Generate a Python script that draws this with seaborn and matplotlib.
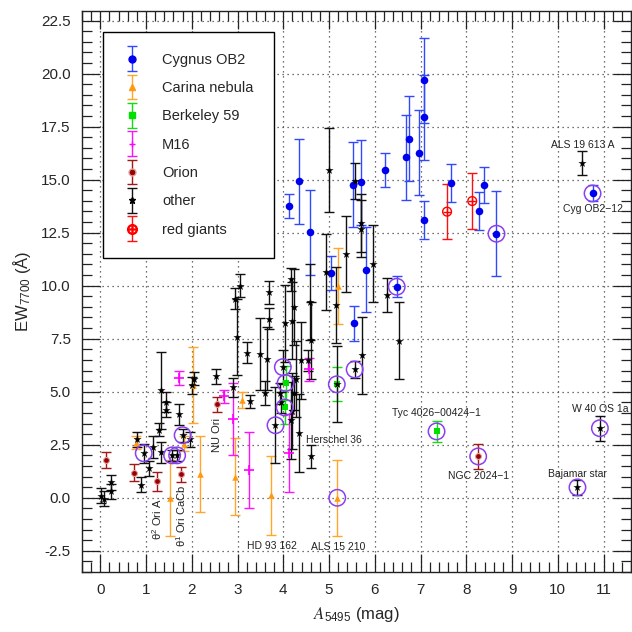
import numpy as np
import pandas as pd
import matplotlib
matplotlib.use('Agg')
import matplotlib.pyplot as plt
import seaborn as sns
from matplotlib.container import ErrorbarContainer
from matplotlib.legend_handler import HandlerErrorbar
from matplotlib.ticker import MultipleLocator, FormatStrFormatter

# ---------------- data (A5495 [mag], EW7700 [A], error) ----------------
cyg_x = [4.12, 4.34, 4.58, 5.05, 5.52, 5.54, 5.69, 5.81, 6.22, 6.48, 6.68, 6.74,
         6.97, 7.08, 7.08, 7.08, 7.66, 8.27, 8.39, 8.66, 10.76]
cyg_y = [13.76, 14.93, 12.51, 10.58, 14.76, 8.22, 14.87, 10.75, 15.44, 9.95, 16.05, 16.93,
         16.26, 19.68, 17.94, 13.08, 14.84, 13.52, 14.76, 12.45, 14.35]
cyg_e = [0.57, 2.0, 2.0, 0.8, 2.0, 0.82, 2.0, 2.0, 0.8, 0.5, 2.0, 2.0,
         2.0, 2.0, 2.0, 0.9, 0.9, 0.9, 0.85, 2.0, 0.38]

car_x = [0.78, 1.52, 1.83, 2.02, 2.17, 2.95, 3.10, 3.74, 5.18, 5.19]
car_y = [2.60, 0.00, 2.55, 5.33, 1.13, 1.00, 4.59, 0.11, 0.00, 9.97]
car_e = [0.30, 1.80, 0.35, 1.80, 1.80, 1.80, 0.38, 1.85, 1.80, 1.80]

ber_x = [4.05, 4.03, 5.17, 7.35]
ber_y = [5.41, 4.26, 5.35, 3.13]
ber_e = [0.80, 0.80, 0.80, 0.49]

m16_x = [1.73, 2.70, 2.90, 3.25, 4.12, 4.56]
m16_y = [5.66, 4.79, 3.72, 1.32, 2.10, 6.05]
m16_e = [0.32, 0.30, 1.70, 1.80, 1.85, 0.55]

ori_x = [0.13, 0.74, 1.25, 1.77, 2.56, 8.26]
ori_y = [1.79, 1.18, 0.78, 1.11, 4.40, 1.95]
ori_e = [0.37, 0.40, 0.45, 0.35, 0.35, 0.57]

oth_x = [0.02, 0.09, 0.24, 0.24, 0.80, 0.88, 0.95, 1.06, 1.15, 1.29, 1.33, 1.33,
         1.43, 1.43, 1.57, 1.68, 1.71, 1.80, 1.97, 2.04, 2.00, 2.52, 2.90, 2.98,
         2.95, 3.05, 3.21, 3.27, 3.50, 3.60, 3.65, 3.68, 3.69, 3.83, 3.92, 3.95,
         3.99, 4.03, 4.16, 4.16, 4.19, 4.20, 4.23, 4.24, 4.27, 4.34, 4.38, 4.54,
         4.58, 4.60, 4.60, 4.93, 5.00, 5.16, 5.17, 5.38, 5.56, 5.56, 5.69, 5.69,
         5.72, 5.97, 6.26, 6.54, 10.43, 10.54, 10.92]
oth_y = [0.09, -0.05, 0.74, 0.30, 2.76, 0.61, 2.10, 1.40, 2.39, 3.21, 2.14, 5.06,
         4.50, 4.15, 2.00, 2.00, 3.93, 2.95, 2.75, 5.62, 5.30, 5.72, 5.22, 7.57,
         9.39, 10.00, 6.84, 4.54, 6.79, 4.94, 6.56, 9.68, 8.44, 3.42, 4.93, 4.51,
         6.16, 8.22, 10.30, 3.65, 8.35, 4.09, 4.95, 8.99, 5.61, 3.05, 6.48, 6.48,
         9.22, 7.42, 1.96, 10.64, 15.45, 9.10, 5.35, 11.48, 14.93, 6.05, 12.95, 12.69,
         6.71, 11.04, 9.58, 7.41, 0.49, 15.77, 3.28]
oth_e = [0.35, 0.35, 0.35, 0.35, 0.36, 0.35, 0.45, 0.35, 0.50, 0.30, 0.50, 1.80,
         0.47, 0.35, 0.25, 0.25, 0.50, 0.30, 0.35, 0.30, 0.40, 0.36, 0.45, 1.80,
         0.50, 0.55, 0.50, 0.32, 1.70, 0.57, 1.50, 0.55, 0.50, 1.80, 0.50, 0.50,
         0.80, 1.80, 0.55, 1.80, 1.80, 1.80, 0.80, 1.80, 1.80, 1.83, 1.80, 0.50,
         1.80, 1.80, 0.55, 1.80, 2.00, 1.80, 1.80, 1.80, 0.85, 0.40, 1.35, 1.35,
         1.80, 1.80, 0.80, 1.80, 0.35, 0.57, 0.58]

rg_x = [7.58, 8.13]
rg_y = [13.49, 13.99]
rg_e = [1.30, 1.30]

# highlighted (circled) stars
circ_x = [0.95, 1.57, 1.68, 1.80, 3.83, 3.99, 4.05, 4.03, 5.17, 5.18, 5.56, 6.48,
          7.35, 8.26, 8.66, 10.43, 10.76, 10.92]
circ_y = [2.10, 2.00, 2.00, 2.95, 3.42, 6.16, 5.41, 4.26, 5.35, 0.00, 6.05, 9.95,
          3.13, 1.95, 12.45, 0.49, 14.35, 3.28]

# star names
name_txt = ['ALS 19 613 A', 'Cyg OB2\u221212', 'Tyc 4026\u221200424\u22121', 'NGC 2024\u22121',
            'W 40 OS 1a', 'Bajamar star', 'Herschel 36', 'HD 93 162', 'ALS 15 210']
name_x = [10.55, 10.76, 7.34, 8.27, 10.92, 10.43, 5.10, 3.76, 5.21]
name_y = [16.65, 13.63, 4.01, 1.02, 4.20, 1.13, 2.74, -2.25, -2.33]
vname_txt = ['\u03b8$^{\\mathregular{2}}$ Ori A', '\u03b8$^{\\mathregular{1}}$ Ori CaCb', 'NU Ori']
vname_x = [1.25, 1.77, 2.55]
vname_y = [-1.00, -0.85, 2.94]

# ---------------- style ----------------
sns.set_style('ticks')
plt.rcParams['font.family'] = ['Liberation Sans', 'DejaVu Sans']
plt.rcParams['mathtext.fontset'] = 'stix'

fig = plt.figure(figsize=(6.32, 6.32), dpi=100)
ax = fig.add_axes([0.1297, 0.0949, 0.8687, 0.8877])

groups = [
    dict(name='Cygnus OB2', x=cyg_x, y=cyg_y, e=cyg_e, m='o', ec='#3048ff', mc='#0000f0', s=30, edge='#0000f0', lw=0),
    dict(name='Carina nebula', x=car_x, y=car_y, e=car_e, m='^', ec='#ffa62b', mc='#ff9a10', s=22, edge='#ff9a10', lw=0),
    dict(name='Berkeley 59', x=ber_x, y=ber_y, e=ber_e, m='s', ec='#10e010', mc='#00e000', s=22, edge='#00e000', lw=0),
    dict(name='M16', x=m16_x, y=m16_y, e=m16_e, m='+', ec='#ff10ff', mc='#ff00ff', s=45, edge=None, lw=1.2),
    dict(name='Orion', x=ori_x, y=ori_y, e=ori_e, m='o', ec='#a01818', mc='#9a0000', s=18, edge='#e0a0a0', lw=0.8),
    dict(name='other', x=oth_x, y=oth_y, e=oth_e, m='*', ec='#111111', mc='#000000', s=38, edge='#000000', lw=0),
    dict(name='red giants', x=rg_x, y=rg_y, e=rg_e, m='o', ec='#ff1010', mc='none', s=40, edge='#ff0000', lw=1.0),
]

for g in groups:
    ax.errorbar(g['x'], g['y'], yerr=g['e'], fmt='none', ecolor=g['ec'],
                elinewidth=1.0, capsize=3.8, capthick=1.0, zorder=2)
for g in groups:
    df = pd.DataFrame({'x': g['x'], 'y': g['y']})
    if g['m'] == '+':
        sns.scatterplot(data=df, x='x', y='y', marker='+', color=g['mc'], s=g['s'],
                        linewidth=g['lw'], ax=ax, legend=False, zorder=3)
    elif g['name'] == 'red giants':
        sns.scatterplot(data=df, x='x', y='y', marker='o', facecolor='none', edgecolor=g['edge'],
                        s=g['s'], linewidth=g['lw'], ax=ax, legend=False, zorder=3)
        sns.scatterplot(data=df, x='x', y='y', marker='+', color=g['edge'], s=g['s'],
                        linewidth=1.0, ax=ax, legend=False, zorder=3)
    else:
        sns.scatterplot(data=df, x='x', y='y', marker=g['m'], color=g['mc'], edgecolor=g['edge'],
                        s=g['s'], linewidth=g['lw'], ax=ax, legend=False, zorder=3)

cdf = pd.DataFrame({'x': circ_x, 'y': circ_y})
sns.scatterplot(data=cdf, x='x', y='y', marker='o', facecolor='none', edgecolor='#8a3ff0',
                s=140, linewidth=1.1, ax=ax, legend=False, zorder=4)

# legend handles (errorbar style)
handles = []
for g in groups:
    mk = '$\\oplus$' if g['name'] == 'red giants' else g['m']
    mfc = g['mc'] if g['name'] != 'red giants' else g['edge']
    h = ax.errorbar([np.nan], [np.nan], yerr=[1.0], fmt='', marker=mk, linestyle='none',
                    color=mfc, ecolor=g['ec'],
                    mfc=mfc, mec=(g['edge'] if g['edge'] else mfc),
                    ms=(7 if g['name'] == 'red giants' else 5), elinewidth=1.0,
                    capsize=3.8, capthick=1.0, label=g['name'])
    handles.append(h)
leg = ax.legend(handles=handles, labels=[g['name'] for g in groups], loc='upper left',
                bbox_to_anchor=(0.038, 0.963), borderaxespad=0, fontsize=10.5,
                labelspacing=0.98, handlelength=1.1, handletextpad=1.5,
                borderpad=1.45, fancybox=False, framealpha=1, edgecolor='black',
                handler_map={ErrorbarContainer: HandlerErrorbar(xerr_size=0.85)})
leg.get_frame().set_linewidth(1.0)

for t, x, y in zip(name_txt, name_x, name_y):
    ax.text(x, y, t, ha='center', va='center', fontsize=7.5, color='#222222', zorder=5)
for t, x, y in zip(vname_txt, vname_x, vname_y):
    ax.text(x, y, t, ha='center', va='center', rotation=90, fontsize=8, color='#222222', zorder=5)

ax.set_xlim(-0.4, 11.6)
ax.set_ylim(-3.5, 22.95)
ax.xaxis.set_major_locator(MultipleLocator(1))
ax.xaxis.set_minor_locator(MultipleLocator(0.2))
ax.yaxis.set_major_locator(MultipleLocator(2.5))
ax.yaxis.set_minor_locator(MultipleLocator(0.5))
ax.yaxis.set_major_formatter(FormatStrFormatter('%.1f'))
ax.tick_params(which='major', direction='in', length=13, width=0.9, top=True, right=True,
               labelsize=11, pad=8, color='#222222')
ax.tick_params(which='minor', direction='in', length=7, width=0.9, top=True, right=True,
               color='#222222')
ax.grid(True, which='major', linestyle=(0, (1, 3)), color='#444444', linewidth=0.9)
for sp in ax.spines.values():
    sp.set_linewidth(1.0)
    sp.set_color('#222222')

ax.set_xlabel('$A_{\\mathregular{5495}}$ (mag)', fontsize=12, labelpad=6)
ax.set_ylabel('EW$_{\\mathregular{7700}}$ (\u00c5)', fontsize=12, labelpad=6)

fig.savefig('out.png', dpi=100)
